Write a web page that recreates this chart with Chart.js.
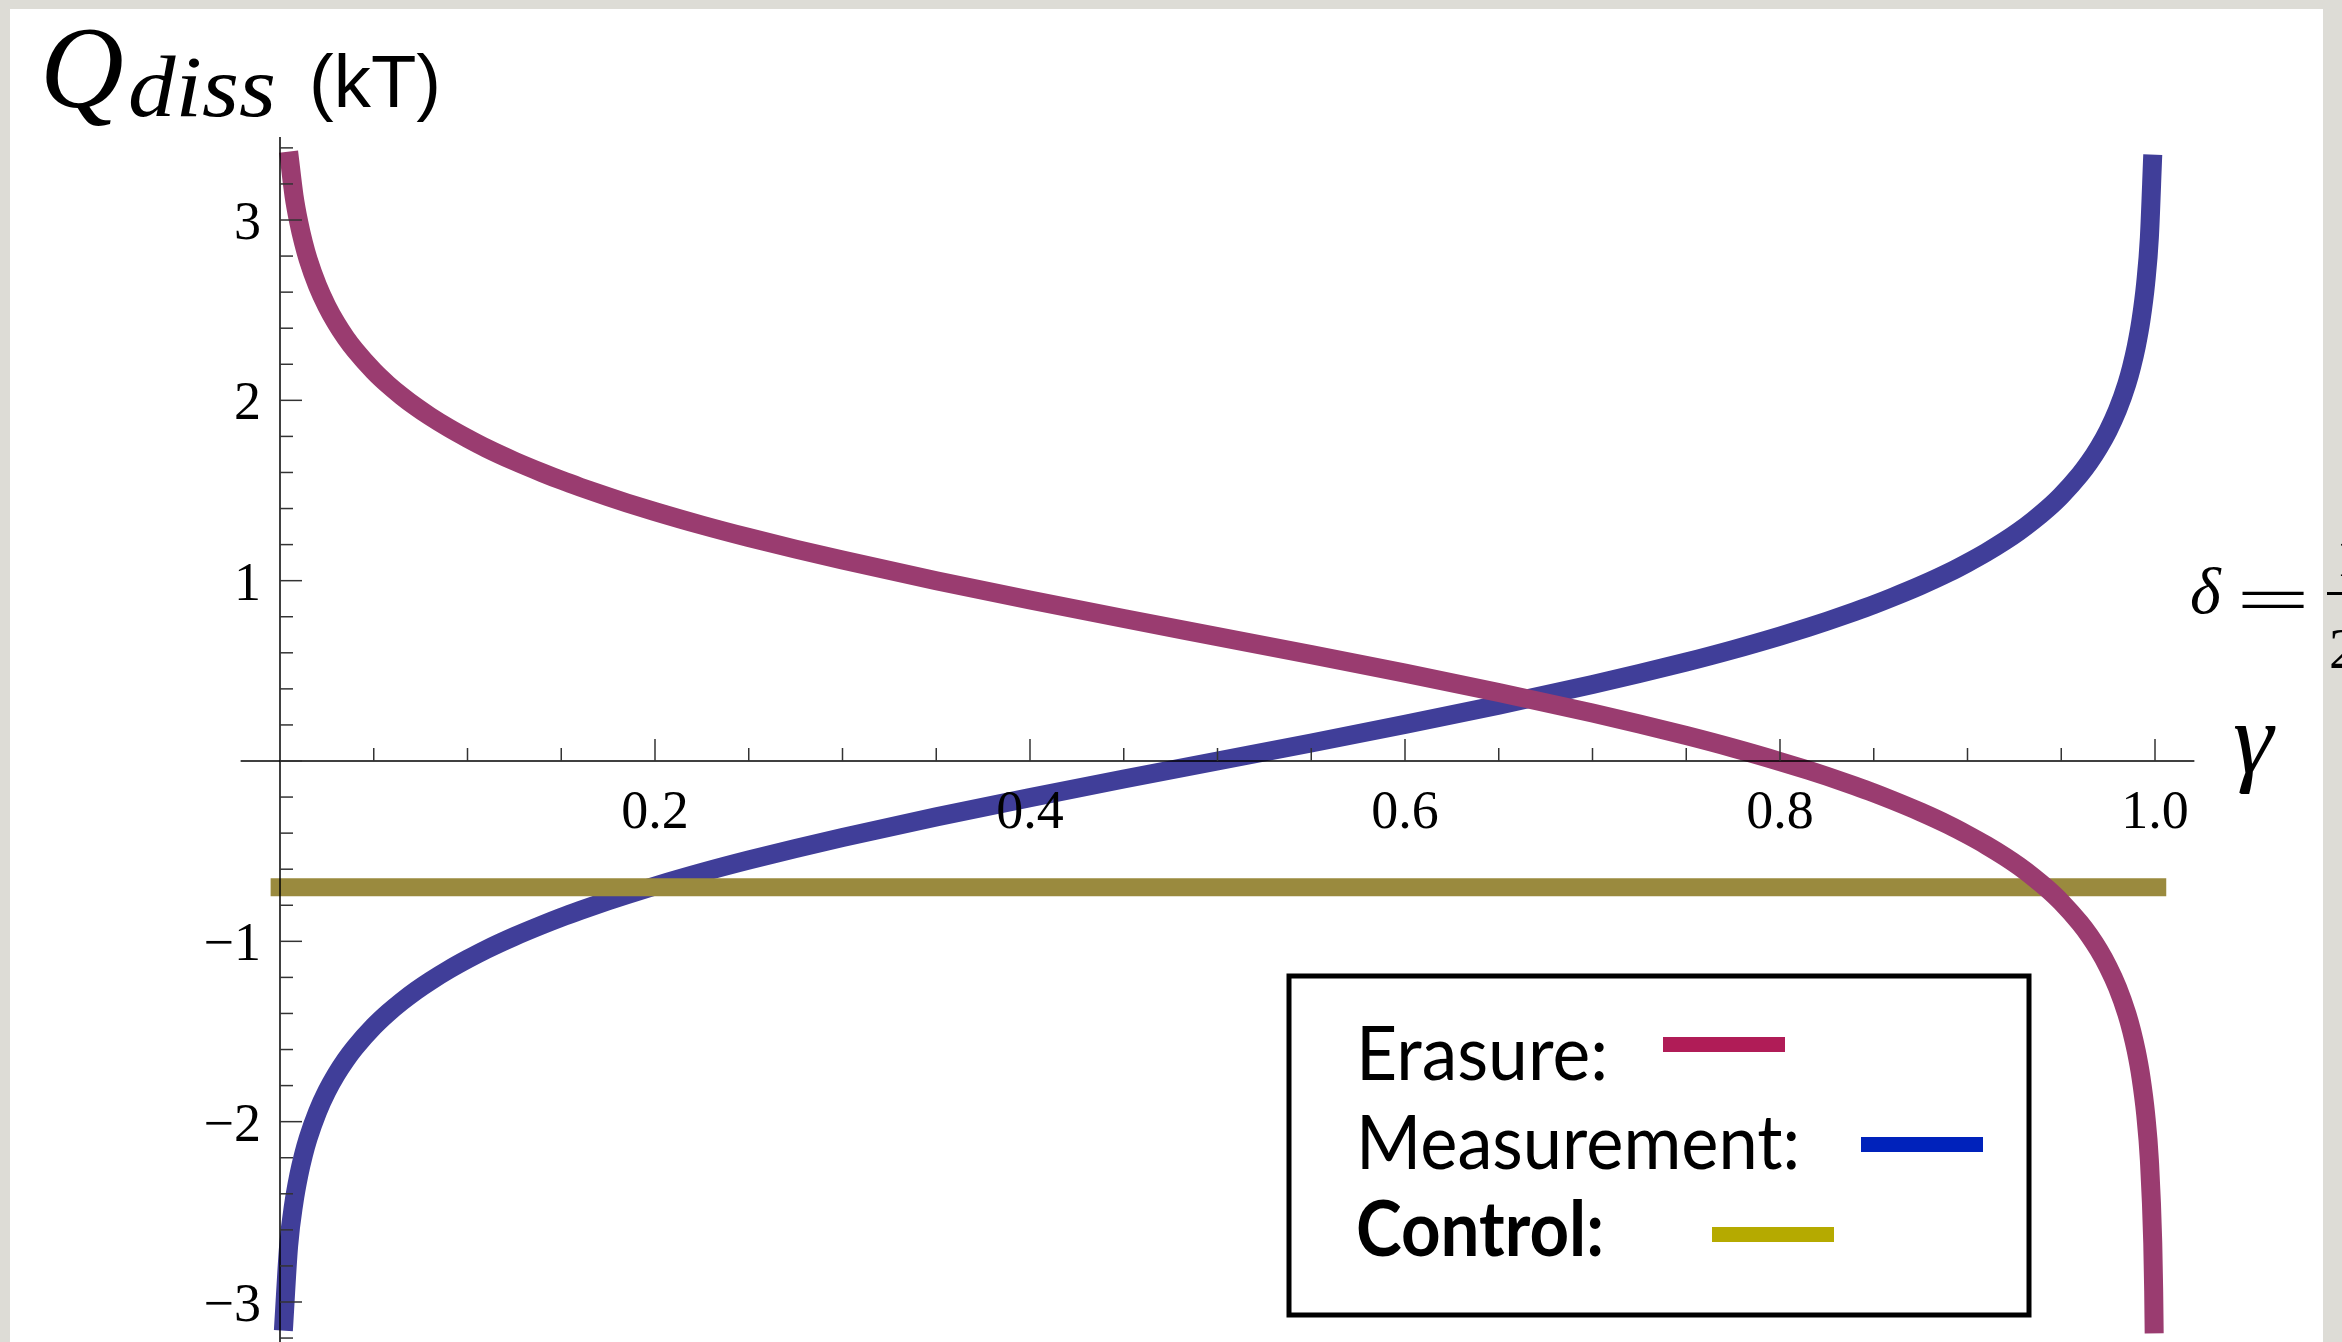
<!DOCTYPE html>
<html>
<head>
<meta charset="utf-8">
<script src="https://cdn.jsdelivr.net/npm/chart.js@4.4.1/dist/chart.umd.min.js"></script>
<style>
  html, body { margin: 0; padding: 0; background: #dddcd6; }
  canvas { display: block; }
</style>
</head>
<body>
<canvas id="qdiss" width="2342" height="1342"></canvas>
<script>
// gamma values and the two dissipated-heat curves (kT)
const gamma = [0.0018, 0.0046, 0.0075, 0.01, 0.0125, 0.015, 0.02, 0.025, 0.03, 0.035,
  0.04, 0.05, 0.0575, 0.065, 0.0725, 0.08, 0.09, 0.1, 0.11, 0.125,
  0.14, 0.15, 0.16, 0.175, 0.185, 0.2, 0.225, 0.25, 0.275, 0.3,
  0.35, 0.4, 0.45, 0.5, 0.55, 0.6, 0.65, 0.7, 0.725, 0.75,
  0.775, 0.8, 0.815, 0.825, 0.84, 0.85, 0.86, 0.875, 0.89, 0.9,
  0.91, 0.92, 0.9275, 0.935, 0.9425, 0.95, 0.96, 0.965, 0.97, 0.975,
  0.98, 0.985, 0.9875, 0.99, 0.9925, 0.995, 0.997, 0.9988, 0.9993, 0.99956];
const erasure = [null, 3.379, 3.133, 2.988, 2.875, 2.782, 2.636, 2.522, 2.428, 2.348,
  2.279, 2.162, 2.088, 2.023, 1.964, 1.911, 1.847, 1.789, 1.735, 1.663,
  1.598, 1.557, 1.519, 1.465, 1.431, 1.383, 1.308, 1.239, 1.175, 1.114,
  1.000, 0.893, 0.790, 0.690, 0.590, 0.487, 0.380, 0.266, 0.205, 0.141,
  0.072, -0.003, -0.051, -0.085, -0.139, -0.177, -0.218, -0.283, -0.355, -0.409,
  -0.467, -0.531, -0.584, -0.643, -0.708, -0.782, -0.899, -0.968, -1.048, -1.142,
  -1.256, -1.402, -1.495, -1.608, -1.753, -1.957, -2.213, -2.672, -2.942, -3.174];
const measurement = [-3.159, -2.689, -2.443, -2.298, -2.185, -2.092, -1.946, -1.832, -1.738, -1.658,
  -1.589, -1.472, -1.398, -1.333, -1.274, -1.221, -1.157, -1.099, -1.045, -0.973,
  -0.908, -0.867, -0.829, -0.775, -0.741, -0.693, -0.618, -0.549, -0.485, -0.424,
  -0.310, -0.203, -0.100, 0.000, 0.100, 0.203, 0.310, 0.424, 0.485, 0.549,
  0.618, 0.693, 0.741, 0.775, 0.829, 0.867, 0.908, 0.973, 1.045, 1.099,
  1.157, 1.221, 1.274, 1.333, 1.398, 1.472, 1.589, 1.658, 1.738, 1.832,
  1.946, 2.092, 2.185, 2.298, 2.443, 2.647, 2.903, 3.362, null, null];
const controlGamma = [-0.005, 1.006];
const control = [-0.70, -0.70];

const xTicks = [0.2, 0.4, 0.6, 0.8, 1.0];
const xTickLabels = ['0.2', '0.4', '0.6', '0.8', '1.0'];
const yTicks = [3, 2, 1, -1, -2, -3];
const yTickLabels = ['3', '2', '1', '\u22121', '\u22122', '\u22123'];
const legendLabels = ['Erasure:', 'Measurement:', 'Control:'];

function pts(xs, ys) {
  return xs.map((g, i) => ({ x: g, y: ys[i] }));
}

function fitText(ctx, text, x, y, width, font) {
  ctx.font = font;
  const w = ctx.measureText(text).width;
  ctx.save();
  ctx.translate(x, y);
  ctx.scale(width / w, 1);
  ctx.fillText(text, 0, 0);
  ctx.restore();
}

function seg(ctx, x1, y1, x2, y2) {
  ctx.beginPath();
  ctx.moveTo(x1, y1);
  ctx.lineTo(x2, y2);
  ctx.stroke();
}

const slide = {
  id: 'slide',
  beforeDraw(chart) {
    const ctx = chart.ctx;
    ctx.save();
    ctx.fillStyle = '#dddcd6';
    ctx.fillRect(0, 0, chart.width, chart.height);
    ctx.fillStyle = '#ffffff';
    ctx.fillRect(10, 9, 2313, 1333);
    ctx.restore();
  },
  afterDatasetsDraw(chart) {
    const ctx = chart.ctx;
    const sx = chart.scales.x, sy = chart.scales.y;
    const x0 = sx.getPixelForValue(0), y0 = sy.getPixelForValue(0);
    ctx.save();

    // axes
    ctx.strokeStyle = '#000';
    ctx.lineWidth = 1.5;
    seg(ctx, x0, sy.getPixelForValue(3.46), x0, chart.height);
    seg(ctx, sx.getPixelForValue(-0.021), y0, sx.getPixelForValue(1.021), y0);

    ctx.strokeStyle = '#333';
    for (let k = -16; k <= 17; k++) {
      const py = sy.getPixelForValue(k * 0.2);
      seg(ctx, x0, py, x0 + (k % 5 === 0 ? 22 : 13), py);
    }
    for (let k = 1; k <= 20; k++) {
      const px = sx.getPixelForValue(k * 0.05);
      seg(ctx, px, y0, px, y0 - (k % 4 === 0 ? 22 : 13));
    }

    // tick labels
    ctx.fillStyle = '#000';
    ctx.font = '54px "Liberation Serif"';
    ctx.textAlign = 'center';
    ctx.textBaseline = 'alphabetic';
    xTicks.forEach((v, i) => ctx.fillText(xTickLabels[i], sx.getPixelForValue(v), y0 + 67));
    ctx.textAlign = 'right';
    yTicks.forEach((v, i) => ctx.fillText(yTickLabels[i], x0 - 19, sy.getPixelForValue(v) + 19));

    // axis titles
    ctx.textAlign = 'left';
    ctx.font = 'italic 116px "Liberation Serif"';
    ctx.fillText('Q', 40, 107);
    fitText(ctx, 'diss', 128, 116, 148, 'italic 86px "Liberation Serif"');
    fitText(ctx, '(kT)', 309, 107, 132, '74px "Liberation Sans"');
    ctx.font = 'italic 102px "Liberation Serif"';
    ctx.fillText('\u03b3', 2233, 772);
    ctx.font = 'italic 66px "Liberation Serif"';
    ctx.fillText('\u03b4', 2190, 613);
    fitText(ctx, '=', 2236, 622, 74, '66px "Liberation Serif"');
    ctx.font = '56px "Liberation Serif"';
    ctx.fillText('1', 2336, 576);
    ctx.fillText('2', 2329, 668);
    ctx.fillRect(2327, 592, 80, 3);

    // legend
    ctx.fillStyle = '#fff';
    ctx.fillRect(1289, 976, 740, 339);
    ctx.strokeStyle = '#000';
    ctx.lineWidth = 5;
    ctx.strokeRect(1289, 976, 740, 339);
    ctx.fillStyle = '#000';
    fitText(ctx, legendLabels[0], 1356, 1080, 252, '76px Lato');
    fitText(ctx, legendLabels[1], 1356, 1169, 444, '76px Lato');
    fitText(ctx, legendLabels[2], 1356, 1256, 248, 'bold 76px Lato');
    ctx.fillStyle = '#b01c57';
    ctx.fillRect(1663, 1037, 122, 15);
    ctx.fillStyle = '#0022bb';
    ctx.fillRect(1861, 1137, 122, 15);
    ctx.fillStyle = '#b5aa00';
    ctx.fillRect(1712, 1227, 122, 15);

    ctx.restore();
  }
};

const common = {
  pointRadius: 0,
  borderWidth: 19,
  borderCapStyle: 'butt',
  borderJoinStyle: 'round',
  cubicInterpolationMode: 'monotone',
  fill: false
};

new Chart(document.getElementById('qdiss'), {
  type: 'line',
  data: {
    datasets: [
      Object.assign({ label: 'Erasure', data: pts(gamma, erasure), borderColor: '#9a3c70' }, common),
      Object.assign({ label: 'Control', data: pts(controlGamma, control), borderColor: '#9a8a3e' }, common, { borderWidth: 18 }),
      Object.assign({ label: 'Measurement', data: pts(gamma, measurement), borderColor: '#403e99' }, common)
    ]
  },
  plugins: [slide],
  options: {
    animation: false,
    responsive: false,
    maintainAspectRatio: false,
    devicePixelRatio: 1,
    layout: { padding: 0 },
    scales: {
      x: { type: 'linear', min: -0.149333, max: 1.099733, display: false },
      y: { type: 'linear', min: -3.22187, max: 4.22003, display: false }
    },
    plugins: {
      legend: { display: false },
      tooltip: { enabled: false }
    }
  }
});
</script>
</body>
</html>
